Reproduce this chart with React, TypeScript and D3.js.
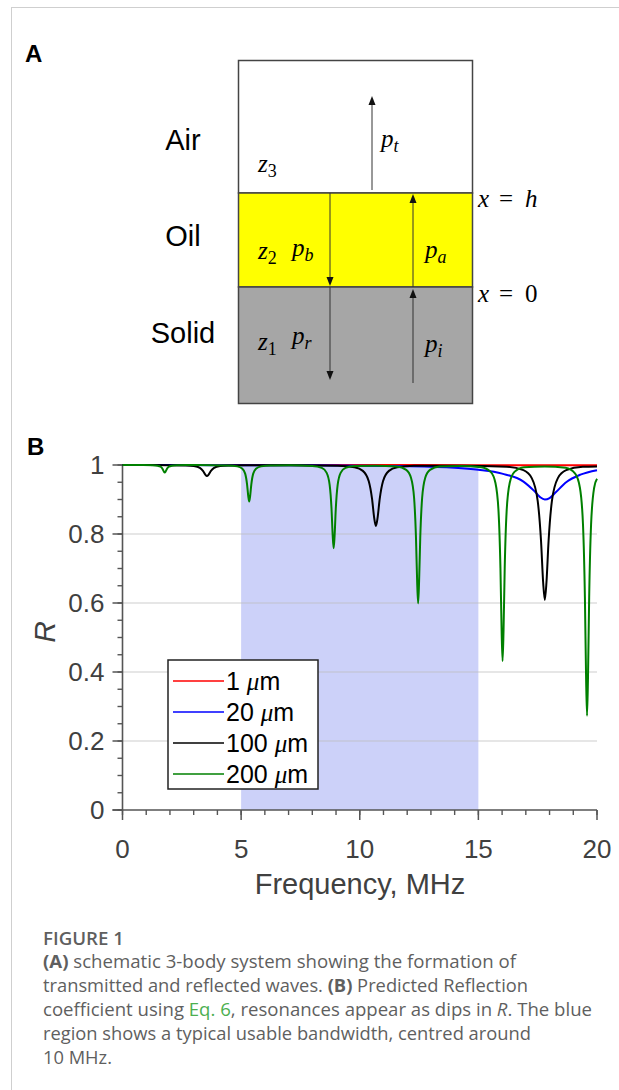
import React from 'react';
import * as d3 from 'd3';

type Pt = [number, number];

// ---------- Data ----------
const freqTicks = [0, 5, 10, 15, 20];
const freqTickLabels = ['0', '5', '10', '15', '20'];
const rTicks = [0, 0.2, 0.4, 0.6, 0.8, 1];
const rTickLabels = ['0', '0.2', '0.4', '0.6', '0.8', '1'];
const gridValues = [0.2, 0.4, 0.6, 0.8];
const usableBand = [5, 15];

const seriesNames = ['1 μm', '20 μm', '100 μm', '200 μm'];
const seriesThickness = ['1', '20', '100', '200'];
const seriesColors = ['#ff0000', '#0000ff', '#000000', '#008000'];

const red1um: Pt[] = [[0, 1], [5, 1], [10, 1], [15, 0.9995], [20, 0.999]];

const blue20um: Pt[] = [
  [0, 1], [4, 0.9995], [8, 0.999], [12, 0.9965], [14, 0.992], [15, 0.986], [16, 0.975],
  [16.9, 0.952], [17.35, 0.925], [17.6, 0.907], [17.8, 0.9], [18.0, 0.904], [18.25, 0.92],
  [18.7, 0.95], [19.3, 0.972], [20, 0.985],
];

const black100um: Pt[] = [
  [0, 1], [1.96, 0.9996], [2.66, 0.9988], [3.01, 0.9969], [3.26, 0.9915], [3.4, 0.982],
  [3.49, 0.972], [3.56, 0.968], [3.63, 0.972], [3.72, 0.982], [3.86, 0.9915], [4.11, 0.9969],
  [4.46, 0.9988], [5.16, 0.9996],
  [7, 0.999], [9.08, 0.9978], [9.78, 0.9932], [10.13, 0.983], [10.38, 0.953], [10.52, 0.901],
  [10.61, 0.846], [10.68, 0.823], [10.75, 0.846], [10.84, 0.901], [10.98, 0.953], [11.23, 0.983],
  [11.58, 0.9932], [12.28, 0.9978],
  [14.2, 0.998], [16.2, 0.995], [16.9, 0.985], [17.25, 0.962], [17.5, 0.896], [17.64, 0.781],
  [17.73, 0.66], [17.8, 0.609], [17.87, 0.66], [17.96, 0.781], [18.1, 0.896], [18.35, 0.962],
  [18.7, 0.985], [19.4, 0.995], [20, 0.996],
];

const green200um: Pt[] = [
  [0, 1], [0.88, 0.9998], [1.28, 0.9992], [1.48, 0.998], [1.61, 0.9948], [1.69, 0.9884],
  [1.74, 0.9813], [1.78, 0.978], [1.82, 0.9813], [1.87, 0.9884], [1.95, 0.9948], [2.08, 0.998],
  [2.28, 0.9992], [2.68, 0.9998],
  [4.44, 0.9988], [4.84, 0.996], [5.04, 0.99], [5.17, 0.975], [5.25, 0.944], [5.3, 0.91],
  [5.34, 0.894], [5.38, 0.91], [5.43, 0.944], [5.51, 0.975], [5.64, 0.99], [5.84, 0.996],
  [6.24, 0.9988],
  [7.1, 0.999], [8.0, 0.9973], [8.4, 0.9916], [8.6, 0.978], [8.73, 0.943], [8.81, 0.873],
  [8.86, 0.795], [8.9, 0.759], [8.94, 0.795], [8.99, 0.873], [9.07, 0.943], [9.2, 0.978],
  [9.4, 0.9916], [9.8, 0.9973],
  [10.7, 0.998], [11.56, 0.9956], [11.96, 0.986], [12.16, 0.963], [12.29, 0.905], [12.37, 0.789],
  [12.42, 0.66], [12.46, 0.599], [12.5, 0.66], [12.55, 0.789], [12.63, 0.905], [12.76, 0.963],
  [12.96, 0.986], [13.36, 0.9956],
  [14.24, 0.997], [15.12, 0.9938], [15.52, 0.98], [15.72, 0.948], [15.85, 0.865], [15.93, 0.701],
  [15.98, 0.518], [16.02, 0.432], [16.06, 0.518], [16.11, 0.701], [16.19, 0.865], [16.32, 0.948],
  [16.52, 0.98], [16.92, 0.9938],
  [17.8, 0.996], [18.68, 0.992], [19.08, 0.975], [19.28, 0.934], [19.41, 0.827], [19.49, 0.617],
  [19.54, 0.383], [19.58, 0.273], [19.62, 0.383], [19.67, 0.617], [19.75, 0.827], [19.88, 0.934],
  [20, 0.96],
];

const allSeries: Pt[][] = [red1um, blue20um, black100um, green200um];

const captionLines = [
  'schematic 3-body system showing the formation of',
  'transmitted and reflected waves.',
  'Predicted Reflection',
  'coefficient using ',
  'Eq. 6',
  ', resonances appear as dips in ',
  'R',
  '. The blue',
  'region shows a typical usable bandwidth, centred around',
  '10 MHz.',
];

// ---------- Component ----------
export default function App() {
  const W = 619;
  const H = 1090;
  const x = d3.scaleLinear().domain([0, 20]).range([122.5, 597]);
  const y = d3.scaleLinear().domain([0, 1]).range([810, 465]);
  const line = d3
    .line<Pt>()
    .x((d) => x(d[0]))
    .y((d) => y(d[1]))
    .curve(d3.curveMonotoneX);

  const axisColor = '#555555';
  const labelColor = '#404040';
  const sans = 'Arial, "Liberation Sans", Helvetica, sans-serif';
  const serif = '"Liberation Serif", "DejaVu Serif", serif';
  const capFont = '"Open Sans", "Noto Sans", sans-serif';
  const capColor = '#5f5f5f';

  const xMinor = x.ticks(20);
  const yMinor = y.ticks(20);

  const arrowHead = (cx: number, tipY: number, dir: 1 | -1) => {
    const l = 9;
    const w = 3.5;
    return `M${cx},${tipY} L${cx - w},${tipY - dir * l} L${cx + w},${tipY - dir * l} Z`;
  };

  const legendX = 168;
  const legendY = 660;
  const rowH = 31;

  return (
    <svg
      width={W}
      height={H}
      viewBox={`0 0 ${W} ${H}`}
      style={{ position: 'absolute', left: 0, top: 0, display: 'block', background: '#fff' }}
    >
      {/* page frame */}
      <line x1={11} y1={7.5} x2={W} y2={7.5} stroke="#cfcfcf" strokeWidth={1} />
      <line x1={11.5} y1={7} x2={11.5} y2={H} stroke="#cfcfcf" strokeWidth={1} />

      {/* ---------------- Panel A ---------------- */}
      <text x={25} y={62} fontFamily={sans} fontWeight="bold" fontSize={24} fill="#000">A</text>

      <rect x={238.5} y={60.5} width={234} height={132.5} fill="#ffffff" stroke="#444" strokeWidth={1.5} />
      <rect x={238.5} y={193} width={234} height={94} fill="#ffff00" stroke="#444" strokeWidth={1.5} />
      <rect x={238.5} y={287} width={234} height={116.5} fill="#a6a6a6" stroke="#444" strokeWidth={1.5} />

      <text x={183} y={150} textAnchor="middle" fontFamily={sans} fontSize={29} fill="#000">Air</text>
      <text x={183} y={246} textAnchor="middle" fontFamily={sans} fontSize={29} fill="#000">Oil</text>
      <text x={183} y={343} textAnchor="middle" fontFamily={sans} fontSize={29} fill="#000">Solid</text>

      {/* arrows */}
      <g stroke="#333" strokeWidth={1} fill="#111">
        <line x1={372} y1={190} x2={372} y2={104} />
        <path d={arrowHead(372, 96, -1)} stroke="none" />
        <line x1={330} y1={193} x2={330} y2={279} />
        <path d={arrowHead(330, 286, 1)} stroke="none" />
        <line x1={330} y1={287} x2={330} y2={372} />
        <path d={arrowHead(330, 380, 1)} stroke="none" />
        <line x1={413} y1={287} x2={413} y2={202} />
        <path d={arrowHead(413, 194, -1)} stroke="none" />
        <line x1={413} y1={383} x2={413} y2={297} />
        <path d={arrowHead(413, 289, -1)} stroke="none" />
      </g>

      {/* math labels */}
      <g fontFamily={serif} fontSize={25} fill="#000">
        <text x={381} y={147} fontStyle="italic">p<tspan fontSize={18} dy={5}>t</tspan></text>
        <text x={258} y={172} fontStyle="italic">z<tspan fontSize={18} dy={5} fontStyle="normal">3</tspan></text>
        <text x={258} y={259} fontStyle="italic">z<tspan fontSize={18} dy={5} fontStyle="normal">2</tspan></text>
        <text x={292} y={256} fontStyle="italic">p<tspan fontSize={18} dy={5}>b</tspan></text>
        <text x={425} y={258} fontStyle="italic">p<tspan fontSize={18} dy={5}>a</tspan></text>
        <text x={258} y={350} fontStyle="italic">z<tspan fontSize={18} dy={5} fontStyle="normal">1</tspan></text>
        <text x={292} y={344} fontStyle="italic">p<tspan fontSize={18} dy={5}>r</tspan></text>
        <text x={425} y={352} fontStyle="italic">p<tspan fontSize={18} dy={5}>i</tspan></text>
        <text x={478} y={207}>
          <tspan fontStyle="italic">x</tspan>
          <tspan x={499}>=</tspan>
          <tspan x={525} fontStyle="italic">h</tspan>
        </text>
        <text x={478} y={302}>
          <tspan fontStyle="italic">x</tspan>
          <tspan x={499}>=</tspan>
          <tspan x={525}>0</tspan>
        </text>
      </g>

      {/* ---------------- Panel B ---------------- */}
      <text x={27} y={455} fontFamily={sans} fontWeight="bold" fontSize={24} fill="#000">B</text>

      <rect
        x={x(usableBand[0])}
        y={y(1)}
        width={x(usableBand[1]) - x(usableBand[0])}
        height={y(0) - y(1)}
        fill="#ccd1f9"
      />

      {gridValues.map((g) => (
        <line key={g} x1={x(0)} x2={x(20)} y1={y(g)} y2={y(g)} stroke="#bdbdbd" strokeOpacity={0.5} strokeWidth={1.5} />
      ))}

      {/* y axis */}
      <line x1={x(0)} x2={x(0)} y1={y(0)} y2={y(1)} stroke={axisColor} strokeWidth={1.6} />
      {yMinor.map((t) => (
        <line key={'ym' + t} x1={x(0) - 5} x2={x(0)} y1={y(t)} y2={y(t)} stroke={axisColor} strokeWidth={1.4} />
      ))}
      {rTicks.map((t, i) => (
        <g key={'yt' + t}>
          <line x1={x(0) - 10} x2={x(0)} y1={y(t)} y2={y(t)} stroke={axisColor} strokeWidth={1.5} />
          <text x={x(0) - 18} y={y(t)} dy="0.36em" textAnchor="end" fontFamily={sans} fontSize={26} fill={labelColor}>
            {rTickLabels[i]}
          </text>
        </g>
      ))}

      {/* x axis */}
      <line x1={x(0) - 10} x2={x(20)} y1={y(0)} y2={y(0)} stroke={axisColor} strokeWidth={1.6} />
      {xMinor.map((t) => (
        <line key={'xm' + t} x1={x(t)} x2={x(t)} y1={y(0)} y2={y(0) + 5} stroke={axisColor} strokeWidth={1.4} />
      ))}
      {freqTicks.map((t, i) => (
        <g key={'xt' + t}>
          <line x1={x(t)} x2={x(t)} y1={y(0)} y2={y(0) + 10} stroke={axisColor} strokeWidth={1.5} />
          <text x={x(t)} y={858} textAnchor="middle" fontFamily={sans} fontSize={26} fill={labelColor}>
            {freqTickLabels[i]}
          </text>
        </g>
      ))}

      <text x={360} y={894} textAnchor="middle" fontFamily={sans} fontSize={29} fill={labelColor}>
        Frequency, MHz
      </text>
      <text
        transform={`translate(55,632) rotate(-90)`}
        textAnchor="middle"
        fontFamily={sans}
        fontStyle="italic"
        fontSize={30}
        fill={labelColor}
      >
        R
      </text>

      {allSeries.map((s, i) => (
        <path key={'s' + i} d={line(s) || ''} fill="none" stroke={seriesColors[i]} strokeWidth={2} strokeLinejoin="round" />
      ))}

      {/* legend */}
      <rect x={legendX} y={legendY} width={150} height={129} fill="#fff" stroke="#222" strokeWidth={1.5} />
      {seriesNames.map((n, i) => {
        const cy = legendY + 21 + i * rowH;
        return (
          <g key={'lg' + i}>
            <line x1={legendX + 5} x2={legendX + 56} y1={cy} y2={cy} stroke={seriesColors[i]} strokeWidth={1.5} />
            <text x={legendX + 58} y={cy} dy="0.36em" fontFamily={sans} fontSize={25} fill="#000">
              {seriesThickness[i]}{' '}
              <tspan fontFamily={serif} fontStyle="italic">μ</tspan>
              <tspan>m</tspan>
            </text>
          </g>
        );
      })}

      {/* ---------------- Caption ---------------- */}
      <g fontFamily={capFont} fontSize={17.5} fill={capColor}>
        <text x={43} y={945} fontWeight="600" textLength={81} lengthAdjust="spacingAndGlyphs">FIGURE 1</text>
        <text x={43} y={968} textLength={473} lengthAdjust="spacingAndGlyphs">
          <tspan fontWeight="bold">(A)</tspan> {captionLines[0]}
        </text>
        <text x={43} y={992} textLength={485} lengthAdjust="spacingAndGlyphs">
          {captionLines[1]} <tspan fontWeight="bold">(B)</tspan> {captionLines[2]}
        </text>
        <text x={43} y={1016} textLength={549} lengthAdjust="spacingAndGlyphs">
          {captionLines[3]}
          <tspan fill="#4caf50">{captionLines[4]}</tspan>
          {captionLines[5]}
          <tspan fontStyle="italic">{captionLines[6]}</tspan>
          {captionLines[7]}
        </text>
        <text x={43} y={1040} textLength={488} lengthAdjust="spacingAndGlyphs">{captionLines[8]}</text>
        <text x={43} y={1064} textLength={69} lengthAdjust="spacingAndGlyphs">{captionLines[9]}</text>
      </g>
    </svg>
  );
}
